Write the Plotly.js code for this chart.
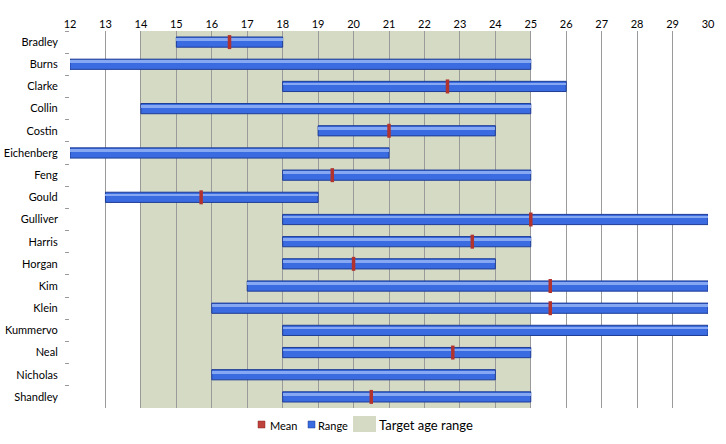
<!DOCTYPE html>
<html><head><meta charset="utf-8">
<script src="https://cdn.plot.ly/plotly-3.0.1.min.js"></script>
<style>html,body{margin:0;padding:0;background:#fff}#chart{width:726px;height:444px}</style>
</head><body><div id="chart"></div>
<script>
const names = ["Bradley","Burns","Clarke","Collin","Costin","Eichenberg","Feng","Gould","Gulliver","Harris","Horgan","Kim","Klein","Kummervo","Neal","Nicholas","Shandley"];
const rangeMin = [15,12,18,14,19,12,18,13,18,18,18,17,16,18,18,16,18];
const rangeMax = [18,25,26,25,24,21,25,19,30,25,24,30,30,30,25,24,25];
const meanVal = [16.5,null,22.65,null,21,null,19.4,15.7,25,23.35,20,25.55,25.55,null,22.8,null,20.5];
const targetMin = 14, targetMax = 25;
const xTicks = [12,13,14,15,16,17,18,19,20,21,22,23,24,25,26,27,28,29,30];

const spans = rangeMax.map((v,i)=>v-rangeMin[i]);
const traces = [
 {type:'bar', orientation:'h', y:names, x:spans, base:rangeMin, width:0.46,
  marker:{color:'#3a6be0', line:{color:'#1e3c94', width:1}}, showlegend:false, hoverinfo:'skip'},
 {type:'bar', orientation:'h', y:names, x:spans, base:rangeMin, width:0.12, offset:-0.17,
  marker:{color:'#86a8f3', line:{width:0}}, showlegend:false, hoverinfo:'skip'},
 {type:'scatter', mode:'markers', y:names, x:meanVal,
  marker:{symbol:'line-ns', size:10, line:{color:'#b2332e', width:3.5}}, showlegend:false, hoverinfo:'skip'}
];
const layout = {
 width:726, height:444, margin:{l:70, r:18, t:31, b:36},
 paper_bgcolor:'#fff', plot_bgcolor:'rgba(0,0,0,0)',
 barmode:'overlay', bargap:0,
 font:{family:'Lato, "Open Sans", sans-serif', size:11, color:'#000'},
 xaxis:{side:'top', range:[12,30], tickvals:xTicks, ticktext:xTicks.map(String), showgrid:true, gridcolor:'#9a9a9a', gridwidth:1,
   zeroline:false, showline:false, ticks:'', tickfont:{size:11}},
 yaxis:{type:'category', categoryorder:'array', categoryarray:names, range:[16.5,-0.5], tickson:'boundaries', ticks:'outside', ticklen:4, tickcolor:'#999',
   showgrid:false, showline:false, zeroline:false, tickfont:{size:11}, ticksuffix:'    '},
 shapes:[
  {type:'rect', xref:'x', yref:'paper', x0:targetMin, x1:targetMax, y0:0, y1:1, fillcolor:'#d4dac4', line:{width:0}, layer:'below'},
  {type:'rect', xref:'paper', yref:'paper', x0:(258-70)/638, x1:(265-70)/638, y0:(408-421)/377, y1:(408-428)/377, fillcolor:'#c0423c', line:{color:'#8a2a26', width:0.5}},
  {type:'rect', xref:'paper', yref:'paper', x0:(308-70)/638, x1:(315-70)/638, y0:(408-421)/377, y1:(408-428)/377, fillcolor:'#3a6be0', line:{color:'#1e3c94', width:0.5}},
  {type:'rect', xref:'paper', yref:'paper', x0:(353-70)/638, x1:(376-70)/638, y0:(408-416)/377, y1:(408-432)/377, fillcolor:'#d4dac4', line:{width:0}}
 ],
 annotations:[
  {xref:'paper', yref:'paper', x:(268-70)/638, y:(408-425)/377, text:'Mean', showarrow:false, xanchor:'left', yanchor:'middle', font:{size:11}},
  {xref:'paper', yref:'paper', x:(316-70)/638, y:(408-425)/377, text:'Range', showarrow:false, xanchor:'left', yanchor:'middle', font:{size:11}},
  {xref:'paper', yref:'paper', x:(377-70)/638, y:(408-425)/377, text:'Target age range', showarrow:false, xanchor:'left', yanchor:'middle', font:{size:13}}
 ]
};
Plotly.newPlot('chart', traces, layout, {displayModeBar:false, staticPlot:true});
</script></body></html>
